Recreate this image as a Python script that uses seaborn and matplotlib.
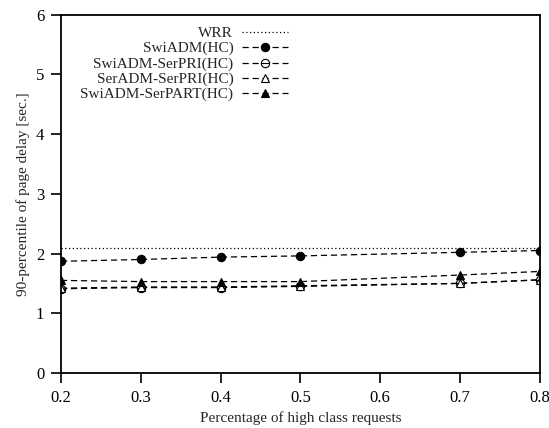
import matplotlib
matplotlib.use("Agg")
import matplotlib.pyplot as plt
from matplotlib.path import Path
import seaborn as sns
import pandas as pd

x_vals = [0.2, 0.3, 0.4, 0.5, 0.7, 0.8]
wrr = [2.1, 2.1, 2.1, 2.1, 2.1, 2.1]
swiadm = [1.87, 1.90, 1.94, 1.96, 2.02, 2.05]
swiadm_serpri = [1.41, 1.43, 1.43, 1.45, 1.50, 1.56]
seradm_serpri = [1.42, 1.44, 1.44, 1.46, 1.50, 1.56]
swiadm_serpart = [1.55, 1.53, 1.53, 1.53, 1.64, 1.70]

names = ["WRR", "SwiADM(HC)", "SwiADM-SerPRI(HC)", "SerADM-SerPRI(HC)", "SwiADM-SerPART(HC)"]
series = [wrr, swiadm, swiadm_serpri, seradm_serpri, swiadm_serpart]

sns.set_style("ticks")
plt.rcParams['font.family'] = ['Liberation Serif', 'DejaVu Serif']

fig = plt.figure(figsize=(5.49, 4.28), dpi=100)
ax = fig.add_axes([0.111, 0.1285, 0.8725, 0.8375])

theta_circle = Path.unit_circle()
circ_minus = Path.make_compound_path(theta_circle, Path([[-1, 0], [1, 0]], [Path.MOVETO, Path.LINETO]))

dash = (0, (5, 3))
styles = {
    "WRR": dict(marker=None, linestyle=(0, (1, 2)), mfc=None),
    "SwiADM(HC)": dict(marker="o", linestyle=dash, mfc="black"),
    "SwiADM-SerPRI(HC)": dict(marker=circ_minus, linestyle=dash, mfc="white"),
    "SerADM-SerPRI(HC)": dict(marker="^", linestyle=dash, mfc="white"),
    "SwiADM-SerPART(HC)": dict(marker="^", linestyle=dash, mfc="black"),
}

for name, vals in zip(names, series):
    df = pd.DataFrame({"x": x_vals, "y": vals})
    st = styles[name]
    kw = dict(color="black", linewidth=0.9, label=name)
    if st["marker"] is None:
        sns.lineplot(data=df, x="x", y="y", ax=ax, linestyle=st["linestyle"], **kw)
    else:
        sns.lineplot(data=df, x="x", y="y", ax=ax, linestyle=st["linestyle"],
                     marker=st["marker"], markersize=6, markerfacecolor=st["mfc"],
                     markeredgecolor="black", markeredgewidth=0.8, **kw)

ax.set_xlim(0.2, 0.8)
ax.set_ylim(0, 6)
ax.set_xticks([0.2, 0.3, 0.4, 0.5, 0.6, 0.7, 0.8])
ax.set_xticklabels(["0.2", "0.3", "0.4", "0.5", "0.6", "0.7", "0.8"])
ax.set_yticks([0, 1, 2, 3, 4, 5, 6])
ax.tick_params(axis="both", direction="out", length=7, width=1.2, labelsize=12, pad=5, colors="black")
for sp in ax.spines.values():
    sp.set_visible(True)
    sp.set_linewidth(1.3)
    sp.set_color("black")
ax.set_xlabel("Percentage of high class requests", fontsize=11, labelpad=4)
ax.set_ylabel("90-percentile of page delay [sec.]", fontsize=11)

leg = ax.legend(loc="upper left", bbox_to_anchor=(0.018, 0.995), frameon=False,
                markerfirst=False, fontsize=11, handlelength=3.0, handletextpad=0.6,
                labelspacing=0.12, borderaxespad=0.3)
leg._legend_box.align = "right"
for vp in leg._legend_box.get_children()[1].get_children():
    for hp in vp.get_children():
        hp.align = "right"

fig.savefig("out.png", dpi=100)
